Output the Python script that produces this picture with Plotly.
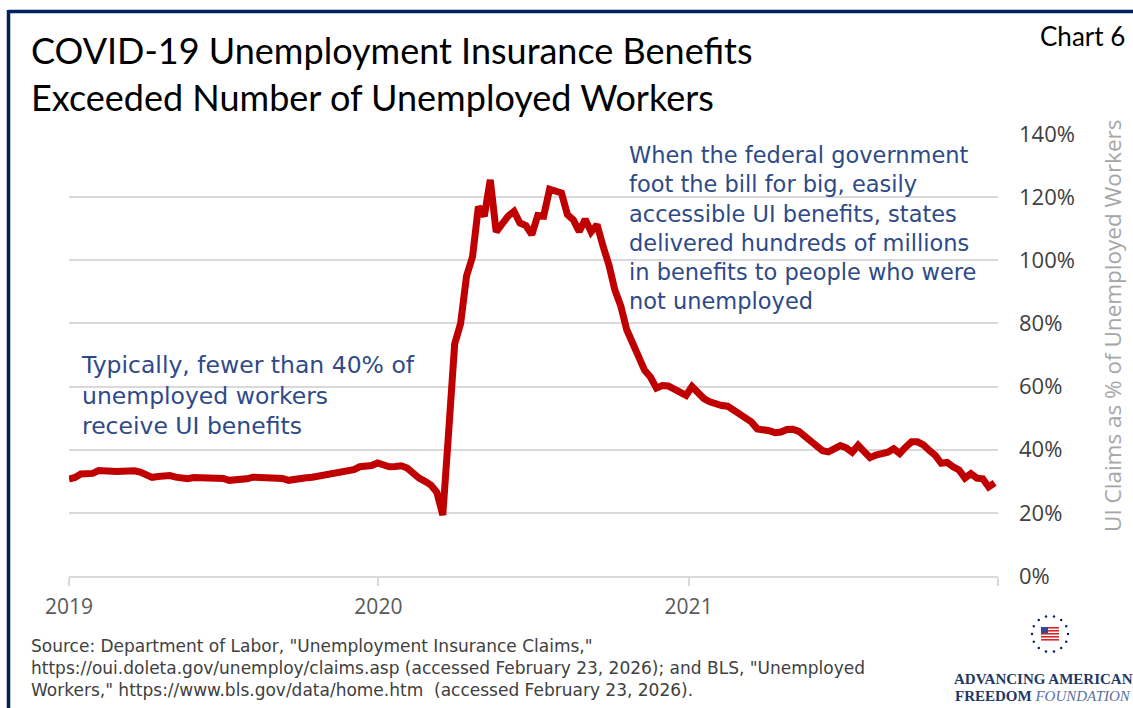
import math
import plotly.graph_objects as go
import pandas as pd

# ---------------- data ----------------
start_date = "2019-01-01"
ui_claims_pct = [
    30.7, 31.2, 32.3, 32.2, 32.5, 33.4, 33.2, 33.3, 33.1, 33.2,
    33.5, 33.3, 32.9, 32.2, 31.2, 31.5, 31.9, 31.8, 31.3, 31.0,
    30.8, 31.2, 31.1, 30.9, 30.9, 31.2, 30.9, 30.3, 30.4, 30.2,
    30.8, 31.3, 31.3, 31.3, 31.3, 31.2, 30.9, 30.3, 30.7, 31.0,
    31.1, 31.3, 31.6, 31.8, 32.3, 32.9, 33.1, 33.1, 33.7, 34.6,
    34.6, 35.0, 35.8, 35.0, 34.6, 34.7, 34.9, 34.2, 32.5, 31.0,
    30.0, 28.8, 26.5, 19.3, 46.0, 73.5, 80.0, 95.0, 101.0, 117.0,
    114.0, 125.5, 109.0, 112.0, 114.0, 115.5, 111.8, 111.0, 108.1, 114.2,
    114.0, 122.5, 121.6, 121.3, 114.5, 112.8, 109.1, 113.0, 109.0, 111.3,
    104.5, 98.5, 90.6, 85.5, 78.0, 73.0, 69.5, 65.2, 63.0, 59.5,
    60.3, 60.2, 59.1, 58.3, 57.2, 60.0, 58.0, 56.2, 55.2, 54.3,
    54.0, 53.8, 52.6, 50.9, 50.0, 48.8, 46.6, 46.4, 46.0, 45.4,
    45.6, 46.4, 46.5, 45.8, 44.2, 43.3, 41.5, 39.7, 39.3, 40.3,
    41.3, 40.6, 39.2, 41.4, 39.8, 37.5, 38.3, 38.8, 39.2, 40.3,
    38.8, 40.8, 42.5, 42.5, 41.5, 39.8, 38.2, 35.7, 36.0, 34.6,
    33.6, 31.0, 32.4, 31.0, 30.8, 28.2, 29.5,
]
week_dates = pd.date_range(start=start_date, periods=len(ui_claims_pct), freq="7D")

x_tick_vals = ["2019-01-01", "2020-01-01", "2021-01-01", "2022-01-01"]
x_tick_text = ["2019", "2020", "2021", ""]
y_tick_vals = [0, 20, 40, 60, 80, 100, 120, 140]
y_tick_text = ["0%", "20%", "40%", "60%", "80%", "100%", "120%", "140%"]

title_lines = ["COVID-19 Unemployment Insurance Benefits",
               "Exceeded Number of Unemployed Workers"]
left_note_lines = ["Typically, fewer than 40% of",
                   "unemployed workers",
                   "receive UI benefits"]
right_note_lines = ["When the federal government",
                    "foot the bill for big, easily",
                    "accessible UI benefits, states",
                    "delivered hundreds of millions",
                    "in benefits to people who were",
                    "not unemployed"]
source_lines = ["Source: Department of Labor, \"Unemployment Insurance Claims,\"",
                "https://oui.doleta.gov/unemploy/claims.asp (accessed February 23, 2026); and BLS, \"Unemployed",
                "Workers,\" https://www.bls.gov/data/home.htm  (accessed February 23, 2026)."]

# ---------------- layout geometry ----------------
FW, FH = 1133, 708
L, R, T, B = 69, 998, 134, 576
W, H = R - L, B - T

def px(x):
    return (x - L) / W

def py(y):
    return (B - y) / H

NAVY = "#002060"
TEXT_BLUE = "#2e4a87"
RED = "#c00000"
GRID = "#d9d9d9"
TITLE_FONT = "Lato, sans-serif"
BODY_FONT = "'Open Sans', Lato, sans-serif"
NOTE_FONT = "'DejaVu Sans', 'Open Sans', sans-serif"

fig = go.Figure()
fig.add_trace(go.Scatter(
    x=week_dates, y=ui_claims_pct, mode="lines",
    line=dict(color=RED, width=7),
    hoverinfo="skip", showlegend=False,
))

shapes = []
# navy frame (top and left edges)
shapes.append(dict(type="line", xref="paper", yref="paper",
                   x0=px(8.5), x1=px(1140), y0=py(11.5), y1=py(11.5),
                   line=dict(color=NAVY, width=3.5)))
shapes.append(dict(type="line", xref="paper", yref="paper",
                   x0=px(8.5), x1=px(8.5), y0=py(10), y1=py(720),
                   line=dict(color=NAVY, width=3.5)))

# emblem: ring of dots with small flag
cx, cy, rad = 1050, 634, 18
for k in range(14):
    a = 2 * math.pi * k / 14
    dx, dy = cx + rad * math.cos(a), cy + rad * math.sin(a)
    shapes.append(dict(type="circle", xref="paper", yref="paper",
                       x0=px(dx - 1.2), x1=px(dx + 1.2), y0=py(dy + 1.2), y1=py(dy - 1.2),
                       fillcolor=NAVY, line=dict(width=0)))
for i in range(5):
    y0 = cy - 7 + i * 3
    shapes.append(dict(type="rect", xref="paper", yref="paper",
                       x0=px(cx - 9), x1=px(cx + 9), y0=py(y0 + 1.6), y1=py(y0),
                       fillcolor="#d9262b", line=dict(width=0)))
shapes.append(dict(type="rect", xref="paper", yref="paper",
                   x0=px(cx - 9), x1=px(cx - 2), y0=py(cy - 1), y1=py(cy - 7),
                   fillcolor="#2a4b9b", line=dict(width=0)))


def text_ann(text, x, y, size, color, family, xanchor="left", yanchor="middle"):
    return dict(text=text, x=px(x), y=py(y), xref="paper", yref="paper",
                xanchor=xanchor, yanchor=yanchor, align="left", showarrow=False,
                font=dict(family=family, size=size, color=color))


annotations = []
for line, yc in zip(title_lines, [50, 97]):
    annotations.append(text_ann(line, 29, yc, 36, "#000000", TITLE_FONT))
annotations.append(text_ann("Chart 6", 1127, 36, 26, "#000000", TITLE_FONT, xanchor="right"))
annotations.append(text_ann("<br>".join(left_note_lines), 79, 395, 23.5, TEXT_BLUE, NOTE_FONT))
annotations.append(text_ann("<br>".join(right_note_lines), 627, 228, 22.5, TEXT_BLUE, NOTE_FONT))
annotations.append(text_ann("<br>".join(source_lines), 29, 668, 17, "#404040", NOTE_FONT))
annotations.append(dict(text="UI Claims as % of Unemployed Workers", x=px(1112), y=py(326),
                        xref="paper", yref="paper", xanchor="center", yanchor="middle",
                        textangle=-90, showarrow=False,
                        font=dict(family=BODY_FONT, size=22.5, color="#a6a6a6")))
annotations.append(dict(text="<b>ADVANCING AMERICAN</b>", x=px(1043), y=py(679),
                        xref="paper", yref="paper", xanchor="center", yanchor="middle",
                        showarrow=False,
                        font=dict(family="'Liberation Serif', serif", size=15, color="#1f3864")))
annotations.append(dict(text="<b>FREEDOM</b> <i><span style='color:#5a6f9e'>FOUNDATION</span></i>",
                        x=px(1043), y=py(696), xref="paper", yref="paper",
                        xanchor="center", yanchor="middle", showarrow=False,
                        font=dict(family="'Liberation Serif', serif", size=15, color="#1f3864")))

fig.update_layout(
    width=FW, height=FH,
    margin=dict(l=L, r=FW - R, t=T, b=FH - B, autoexpand=False),
    paper_bgcolor="white", plot_bgcolor="white",
    showlegend=False,
    shapes=shapes,
    annotations=annotations,
    xaxis=dict(
        type="date", range=["2019-01-01", "2022-01-01"],
        tickvals=x_tick_vals, ticktext=x_tick_text,
        showgrid=False, zeroline=False,
        showline=True, linecolor=GRID, linewidth=2,
        ticks="outside", ticklen=8, tickwidth=2, tickcolor=GRID,
        ticklabelstandoff=3,
        tickfont=dict(family=BODY_FONT, size=21, color="#595959"),
        fixedrange=True,
    ),
    yaxis=dict(
        side="right", range=[0, 140], tickvals=y_tick_vals, ticktext=y_tick_text,
        showgrid=True, gridcolor=GRID, gridwidth=2,
        zeroline=False, showline=False, ticks="",
        ticklabelstandoff=20,
        tickfont=dict(family=BODY_FONT, size=22, color="#404040"),
        fixedrange=True,
    ),
)

fig.write_html("out.html", config={"displayModeBar": False},
               post_script="document.body.style.margin='0';")
